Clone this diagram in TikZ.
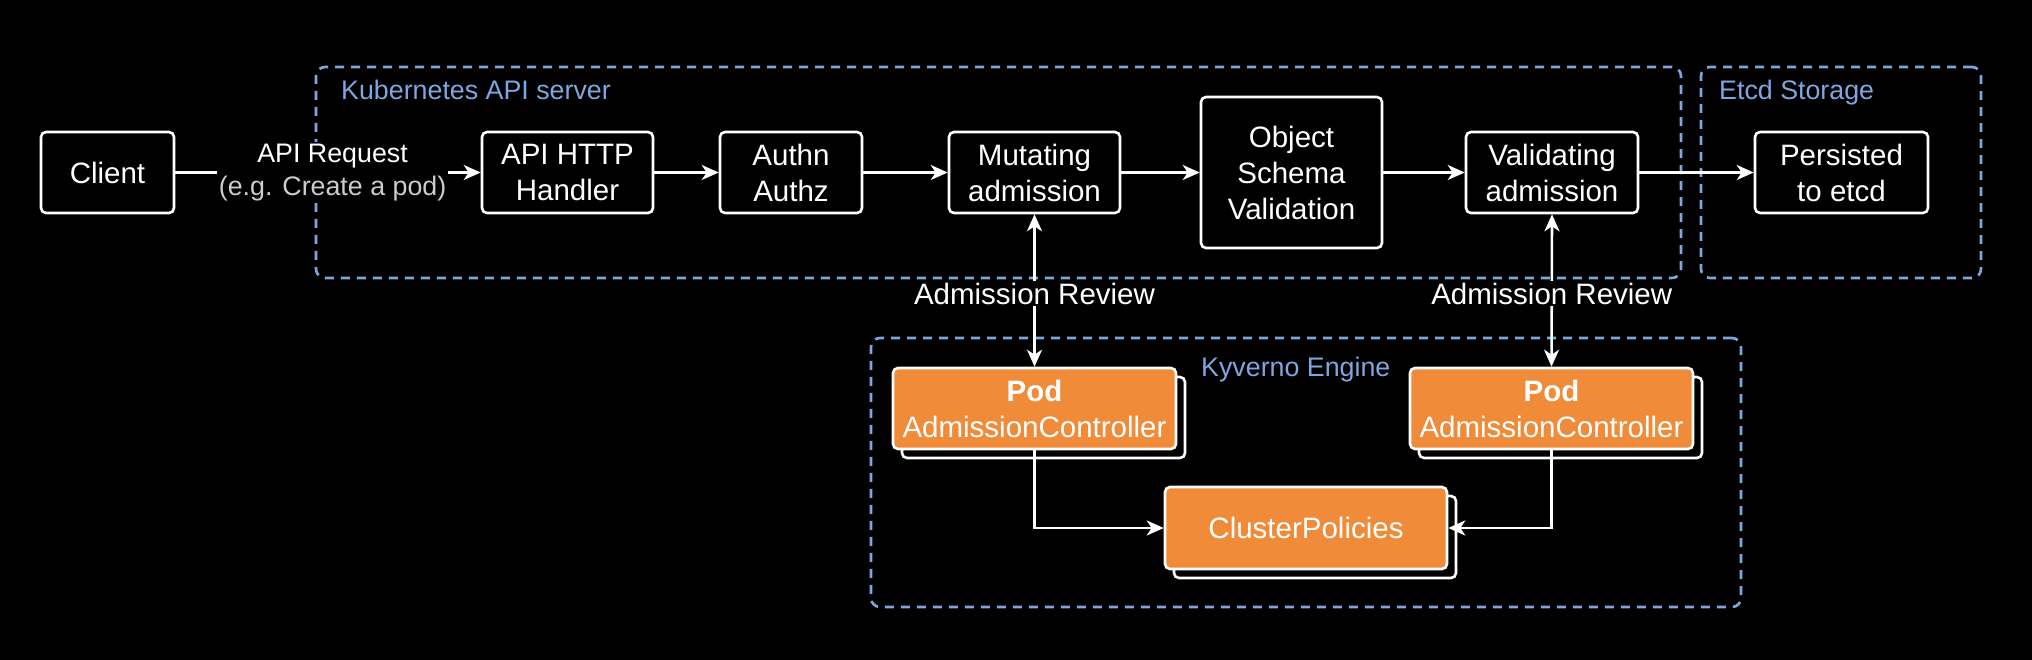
\documentclass[tikz,border=0pt]{standalone}
\usepackage{fontspec}
\setmainfont{Liberation Sans}
\usetikzlibrary{arrows.meta}
\definecolor{kblue}{HTML}{7EA6E0}
\definecolor{korange}{HTML}{F08B3A}
\definecolor{kgray}{HTML}{CCCCCC}
\begin{document}
\begin{tikzpicture}[x=1pt,y=-1pt,
  box/.style={draw=white, line width=2.6pt, rounded corners=5pt, fill=black, text=white,
    align=center, font=\fontsize{29.5}{36}\selectfont, minimum height=81pt, inner sep=0pt},
  obox/.style={box, fill=korange},
  backbox/.style={draw=white, line width=2.6pt, rounded corners=5pt, fill=black, inner sep=0pt},
  container/.style={draw=kblue, line width=2.6pt, dash pattern=on 9pt off 7pt, rounded corners=9pt, inner sep=0pt},
  grouplabel/.style={text=kblue, font=\fontsize{26.8}{32}\selectfont, inner sep=0pt},
  conn/.style={draw=white, line width=2.6pt, -{Stealth[length=17pt, width=15pt, inset=5pt]}},
  conn2/.style={draw=white, line width=2.6pt, {Stealth[length=17pt, width=15pt, inset=5pt]}-{Stealth[length=17pt, width=15pt, inset=5pt]}},
  lbl/.style={fill=black, text=white, align=center, inner sep=2pt},
]
\fill[black] (0,0) rectangle (2032,660);
\useasboundingbox (0,0) rectangle (2032,660);

% containers
\node[container, minimum width=1365pt, minimum height=211pt] (k8s) at (998.5,172.5) {};
\node[container, minimum width=280pt, minimum height=211pt] (etcd) at (1841,172.5) {};
\node[container, minimum width=870pt, minimum height=269pt] (kyv) at (1306,472.5) {};
\node[grouplabel, anchor=base west] (k8slbl) at (341,100) {Kubernetes API server};
\node[grouplabel, anchor=base west] (etcdlbl) at (1719,100) {Etcd Storage};
\node[grouplabel, anchor=base west] (kyvlbl) at (1201,376) {Kyverno Engine};

% main row
\node[box, minimum width=133pt] (client) at (107.5,172.5) {Client};
\node[box, minimum width=171pt] (handler) at (567.5,172.5) {API HTTP\\Handler};
\node[box, minimum width=142pt] (authn) at (791,172.5) {Authn\\Authz};
\node[box, minimum width=171pt] (mutating) at (1034.5,172.5) {Mutating\\admission};
\node[box, minimum width=181pt, minimum height=151pt] (object) at (1291.5,172.5) {Object\\Schema\\Validation};
\node[box, minimum width=172pt] (validating) at (1552,172.5) {Validating\\admission};
\node[box, minimum width=173pt] (persisted) at (1841.5,172.5) {Persisted\\to etcd};

% kyverno boxes (stacked)
\node[backbox, minimum width=283pt, minimum height=81pt] (podLb) at (1043.5,417.5) {};
\node[obox, minimum width=283pt] (podL) at (1034.5,408.5) {\textbf{Pod}\\AdmissionController};
\node[backbox, minimum width=283pt, minimum height=81pt] (podRb) at (1560.5,417.5) {};
\node[obox, minimum width=283pt] (podR) at (1551.5,408.5) {\textbf{Pod}\\AdmissionController};
\node[backbox, minimum width=282pt, minimum height=82pt] (cpb) at (1315,537) {};
\node[obox, minimum width=282pt, minimum height=82pt] (cp) at (1306,528) {ClusterPolicies};

% connectors
\draw[conn] (client) -- node[lbl, pos=0.515, font=\fontsize{26.8}{33}\selectfont]{API Request\\{\color{kgray}(e.g. Create a pod)}} (handler);
\draw[conn] (handler) -- (authn);
\draw[conn] (authn) -- (mutating);
\draw[conn] (mutating) -- (object);
\draw[conn] (object) -- (validating);
\draw[conn] (validating) -- (persisted);
\draw[conn2] (mutating.south) -- node[lbl, pos=0.52, font=\fontsize{29.5}{36}\selectfont]{Admission Review} (podL.north);
\draw[conn2] (validating.south) -- node[lbl, pos=0.52, font=\fontsize{29.5}{36}\selectfont]{Admission Review} (podR.north);
\draw[conn] (podL.south) |- (cp.west);
\draw[conn] (podR.south) |- (cp.east);
\end{tikzpicture}
\end{document}
